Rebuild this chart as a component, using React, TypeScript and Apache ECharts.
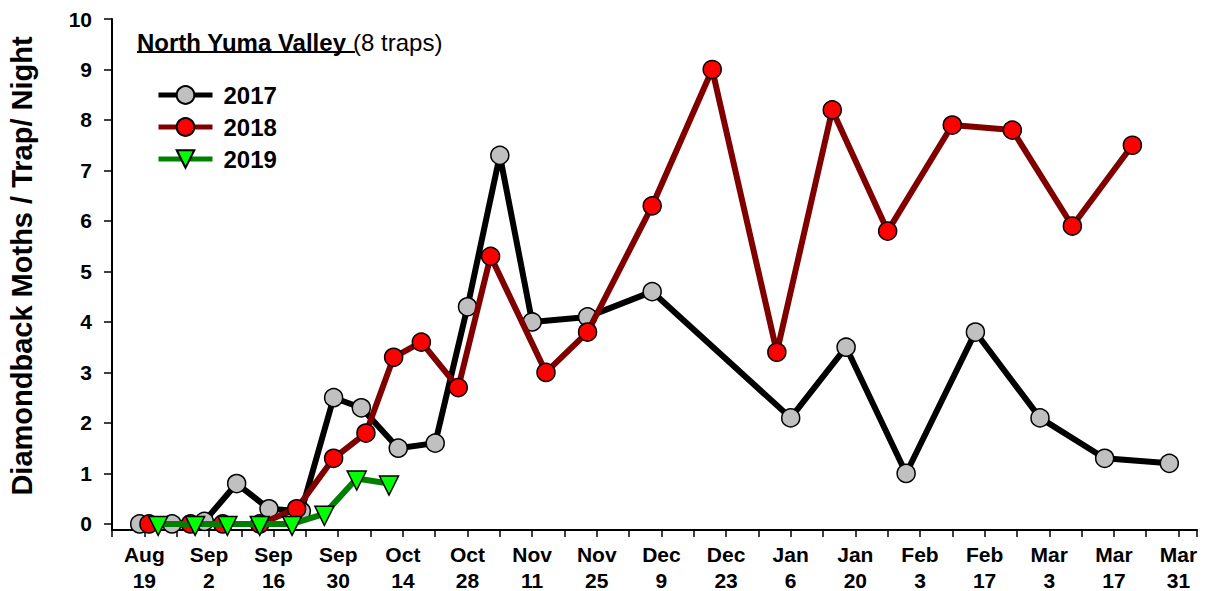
import React, { useEffect, useRef } from "react";
import * as echarts from "echarts";

// x values are days counted from Aug 19
const xTickLabels = [
  "Aug\n19", "Sep\n2", "Sep\n16", "Sep\n30", "Oct\n14", "Oct\n28", "Nov\n11", "Nov\n25",
  "Dec\n9", "Dec\n23", "Jan\n6", "Jan\n20", "Feb\n3", "Feb\n17", "Mar\n3", "Mar\n17", "Mar\n31",
];
const yTicks = [0, 1, 2, 3, 4, 5, 6, 7, 8, 9, 10];

const days2017 = [-1, 6, 13, 20, 27, 34, 41, 47, 55, 63, 70, 77, 84, 96, 110, 140, 152, 165, 180, 194, 208, 222];
const values2017 = [0, 0, 0.05, 0.8, 0.3, 0.25, 2.5, 2.3, 1.5, 1.6, 4.3, 7.3, 4.0, 4.1, 4.6, 2.1, 3.5, 1.0, 3.8, 2.1, 1.3, 1.2];

const days2018 = [1, 10, 17, 25, 33, 41, 48, 54, 60, 68, 75, 87, 96, 110, 123, 137, 149, 161, 175, 188, 201, 214];
const values2018 = [0, 0, 0, 0, 0.3, 1.3, 1.8, 3.3, 3.6, 2.7, 5.3, 3.0, 3.8, 6.3, 9.0, 3.4, 8.2, 5.8, 7.9, 7.8, 5.9, 7.5];

const days2019 = [3, 11, 18, 25, 32, 39, 46, 53];
const values2019 = [0, 0, 0, 0, 0, 0.2, 0.9, 0.8];

const seriesNames = ["2017", "2018", "2019"];
const FONT = "'Liberation Sans', Arial, Helvetica, sans-serif";

function pairs(xs: number[], ys: number[]) {
  return xs.map((x, i) => [x, ys[i]]);
}

export default function App() {
  const ref = useRef<HTMLDivElement>(null);

  useEffect(() => {
    if (!ref.current) return;
    const chart = echarts.init(ref.current, undefined, { renderer: "svg" });
    const option: any = {
      animation: false,
      backgroundColor: "#ffffff",
      textStyle: { fontFamily: FONT },
      grid: {
        left: 112,
        right: 9,
        top: 19,
        bottom: 61,
        containLabel: false,
        outerBoundsMode: "none",
      },
      legend: {
        data: seriesNames,
        orient: "vertical",
        left: 156,
        top: 83,
        padding: 0,
        itemWidth: 54,
        itemHeight: 22,
        itemGap: 8,
        lineStyle: { width: 5 },
        textStyle: {
          fontFamily: FONT,
          fontSize: 24,
          fontWeight: "bold",
          color: "#000",
          padding: [0, 0, 0, 6],
        },
      },
      xAxis: {
        type: "value",
        min: -7,
        max: 228,
        interval: 7,
        splitLine: { show: false },
        axisLine: { show: true, onZero: false, lineStyle: { color: "#000", width: 2 } },
        axisTick: { show: true, inside: false, length: 7, lineStyle: { color: "#000", width: 1.5 } },
        axisLabel: {
          show: true,
          margin: 11,
          fontFamily: FONT,
          fontSize: 21,
          fontWeight: "bold",
          color: "#000",
          lineHeight: 26,
          showMinLabel: true,
          showMaxLabel: true,
          formatter: (v: number) => {
            const r = Math.round(v);
            if (r < 0 || r % 14 !== 0) return "";
            const i = r / 14;
            return i < xTickLabels.length ? xTickLabels[i] : "";
          },
        },
      },
      yAxis: {
        type: "value",
        min: -0.12,
        max: 10,
        splitLine: { show: false },
        axisLine: { show: true, onZero: false, lineStyle: { color: "#000", width: 2 } },
        axisTick: {
          show: true,
          length: 8,
          customValues: yTicks,
          lineStyle: { color: "#000", width: 1.5 },
        },
        axisLabel: {
          show: true,
          margin: 20,
          customValues: yTicks,
          fontFamily: FONT,
          fontSize: 21,
          fontWeight: "bold",
          color: "#000",
        },
      },
      series: [
        {
          name: seriesNames[0],
          type: "line",
          data: pairs(days2017, values2017),
          symbol: "circle",
          symbolSize: 18,
          lineStyle: { color: "#000000", width: 6 },
          itemStyle: { color: "#c0c0c0", borderColor: "#000", borderWidth: 1.5 },
          z: 2,
        },
        {
          name: seriesNames[1],
          type: "line",
          data: pairs(days2018, values2018),
          symbol: "circle",
          symbolSize: 18,
          lineStyle: { color: "#800000", width: 6 },
          itemStyle: { color: "#ff0000", borderColor: "#000", borderWidth: 1.5 },
          z: 3,
        },
        {
          name: seriesNames[2],
          type: "line",
          data: pairs(days2019, values2019),
          symbol: "triangle",
          symbolRotate: 180,
          symbolSize: 19,
          symbolOffset: [0, 2],
          lineStyle: { color: "#008000", width: 6 },
          itemStyle: { color: "#00ff00", borderColor: "#000", borderWidth: 1.5 },
          z: 4,
        },
      ],
      graphic: [
        {
          type: "text",
          x: 22,
          y: 266,
          rotation: Math.PI / 2,
          style: {
            text: "Diamondback Moths / Trap/ Night",
            fontFamily: FONT,
            fontSize: 29,
            fontWeight: "bold",
            fill: "#000",
            align: "center",
            verticalAlign: "middle",
          },
        },
        {
          type: "text",
          x: 137,
          y: 42,
          style: {
            text: "{b|North Yuma Valley }{n|(8 traps)}",
            verticalAlign: "middle",
            align: "left",
            rich: {
              b: { fontFamily: FONT, fontSize: 24, fontWeight: "bold", fill: "#000" },
              n: { fontFamily: FONT, fontSize: 24, fontWeight: "normal", fill: "#000" },
            },
          },
        },
        {
          type: "line",
          shape: { x1: 137, y1: 52, x2: 355, y2: 52 },
          style: { stroke: "#000", lineWidth: 2 },
        },
      ],
    };
    chart.setOption(option);
    return () => chart.dispose();
  }, []);

  return (
    <div
      ref={ref}
      style={{ position: "fixed", left: 0, top: 0, width: 1206, height: 591, background: "#fff" }}
    />
  );
}
